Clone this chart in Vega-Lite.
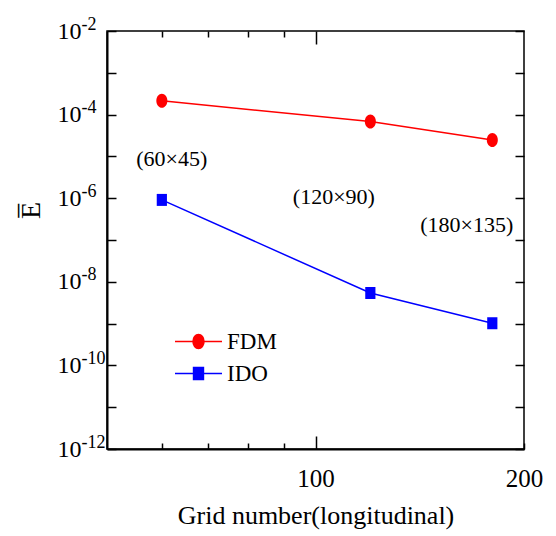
{
  "$schema": "https://vega.github.io/schema/vega-lite/v6.json",
  "width": 417,
  "height": 418,
  "autosize": {"type": "none"},
  "padding": {"left": 107, "top": 31, "right": 32, "bottom": 87},
  "background": "white",
  "config": {
    "view": {"stroke": "black", "strokeWidth": 1.5},
    "font": "Liberation Serif",
    "axis": {
      "labelFont": "Liberation Serif",
      "titleFont": "Liberation Serif",
      "labelColor": "black",
      "titleColor": "black",
      "tickColor": "black",
      "domainColor": "black",
      "titleFontWeight": "normal",
      "grid": false
    }
  },
  "datasets": {
    "series": [
      {"method": "FDM", "grid": 60, "E": 0.000215},
      {"method": "FDM", "grid": 120, "E": 0.000068},
      {"method": "FDM", "grid": 180, "E": 0.0000246},
      {"method": "IDO", "grid": 60, "E": 0.00000091},
      {"method": "IDO", "grid": 120, "E": 0.0000000054},
      {"method": "IDO", "grid": 180, "E": 0.00000000102}
    ],
    "labels": [
      {"grid": 62, "E": 0.0000087, "label": "(60×45)"},
      {"grid": 106.3, "E": 0.00000107, "label": "(120×90)"},
      {"grid": 165.3, "E": 0.00000023, "label": "(180×135)"}
    ]
  },
  "resolve": {"axis": {"x": "independent", "y": "independent"}},
  "layer": [
    {
      "data": {"name": "series"},
      "mark": {"type": "line", "strokeWidth": 1.5},
      "encoding": {
        "x": {
          "field": "grid", "type": "quantitative",
          "scale": {"type": "log", "domain": [50, 200], "nice": false},
          "axis": {
            "orient": "bottom",
            "values": [60, 70, 80, 90, 100, 200],
            "format": "d",
            "labelExpr": "datum.value == 100 || datum.value == 200 ? datum.label : ''",
            "tickSize": {"condition": {"test": "datum.value == 100", "value": -13}, "value": -6},
            "tickWidth": 1.5,
            "domainWidth": 2,
            "labelFontSize": 25,
            "labelPadding": {"condition": {"test": "datum.value == 100", "value": 30}, "value": 23},
            "labelFlush": false,
            "title": "Grid number(longitudinal)",
            "titleFontSize": 26,
            "titleBaseline": "alphabetic",
            "titleY": 74
          }
        },
        "y": {
          "field": "E", "type": "quantitative",
          "scale": {"type": "log", "domain": [1e-12, 0.01], "nice": false},
          "axis": {
            "orient": "left",
            "values": [1e-12, 1e-11, 1e-10, 1e-9, 1e-8, 1e-7, 1e-6, 1e-5, 1e-4, 1e-3, 1e-2],
            "labelExpr": "round(log(datum.value)/LN10) % 2 == 0 ? '10' : ''",
            "tickSize": -9,
            "tickWidth": 1.5,
            "domainWidth": 2,
            "labelFontSize": 24,
            "labelPadding": 59,
            "labelAlign": "left",
            "labelFlush": false,
            "labelBaseline": "middle",
            "title": "E̅",
            "titleFontSize": 28,
            "titleAngle": -90,
            "titleBaseline": "alphabetic",
            "titleX": -68,
            "titleY": 179
          }
        },
        "color": {
          "field": "method", "type": "nominal",
          "scale": {"domain": ["FDM", "IDO"], "range": ["#ff0000", "#0000ff"]},
          "legend": {
            "orient": "none",
            "legendX": 80,
            "legendY": 299,
            "title": null,
            "symbolSize": 100,
            "symbolStrokeWidth": 1.5,
            "labelFont": "Liberation Serif",
            "labelFontSize": 23,
            "labelColor": "black",
            "labelOffset": 17,
            "rowPadding": 8,
            "padding": 0,
            "encode": {
              "symbols": {
                "update": {
                  "shape": {"signal": "datum.value == 'FDM' ? 'M-4.7,0H4.7M0,-1.41A1.1,1.41 0 1,1 0,1.41A1.1,1.41 0 1,1 0,-1.41Z' : 'M-4.7,0H4.7M-0.99,-1.2H0.99V1.2H-0.99Z'"},
                  "fill": {"signal": "datum.value == 'FDM' ? '#ff0000' : '#0000ff'"},
                  "stroke": {"signal": "datum.value == 'FDM' ? '#ff0000' : '#0000ff'"},
                  "strokeWidth": {"value": 1.5},
                  "opacity": {"value": 1},
                  "fillOpacity": {"value": 1}
                }
              }
            }
          }
        }
      }
    },
    {
      "data": {"name": "series"},
      "transform": [{"filter": "datum.method == 'FDM'"}],
      "mark": {"type": "point", "filled": true, "size": 144, "opacity": 1, "color": "#ff0000", "shape": "M0,-1.17A0.92,1.17 0 1,1 0,1.17A0.92,1.17 0 1,1 0,-1.17Z"},
      "encoding": {
        "x": {
          "field": "grid", "type": "quantitative",
          "axis": {
            "orient": "top",
            "values": [60, 70, 80, 90, 100],
            "labels": false,
            "domain": false,
            "tickSize": {"condition": {"test": "datum.value == 100", "value": -13}, "value": -6},
            "tickWidth": 1.5,
            "title": null
          }
        },
        "y": {
          "field": "E", "type": "quantitative",
          "axis": {
            "orient": "right",
            "values": [1e-12, 1e-11, 1e-10, 1e-9, 1e-8, 1e-7, 1e-6, 1e-5, 1e-4, 1e-3, 1e-2],
            "labels": false,
            "domain": false,
            "tickSize": -9,
            "tickWidth": 1.5,
            "title": null
          }
        }
      }
    },
    {
      "data": {"name": "series"},
      "transform": [{"filter": "datum.method == 'IDO'"}],
      "mark": {"type": "point", "filled": true, "size": 144, "opacity": 1, "color": "#0000ff", "shape": "M-0.85,-1H0.85V1H-0.85Z"},
      "encoding": {
        "x": {"field": "grid", "type": "quantitative", "axis": null},
        "y": {"field": "E", "type": "quantitative", "axis": null}
      }
    },
    {
      "data": {"name": "labels"},
      "mark": {"type": "text", "font": "Liberation Serif", "fontSize": 22, "color": "black", "baseline": "middle", "align": "center"},
      "encoding": {
        "x": {"field": "grid", "type": "quantitative", "axis": null},
        "y": {
          "field": "E", "type": "quantitative",
          "axis": {
            "orient": "left",
            "values": [1e-12, 1e-10, 1e-8, 1e-6, 1e-4, 1e-2],
            "labelExpr": "'-' + format(-round(log(datum.value)/LN10), 'd')",
            "ticks": false,
            "domain": false,
            "labelFontSize": 18,
            "labelPadding": 26,
            "labelAlign": "left",
            "labelBaseline": "middle",
            "labelOffset": -7,
            "labelFlush": false,
            "title": null
          }
        },
        "text": {"field": "label"}
      }
    }
  ]
}
